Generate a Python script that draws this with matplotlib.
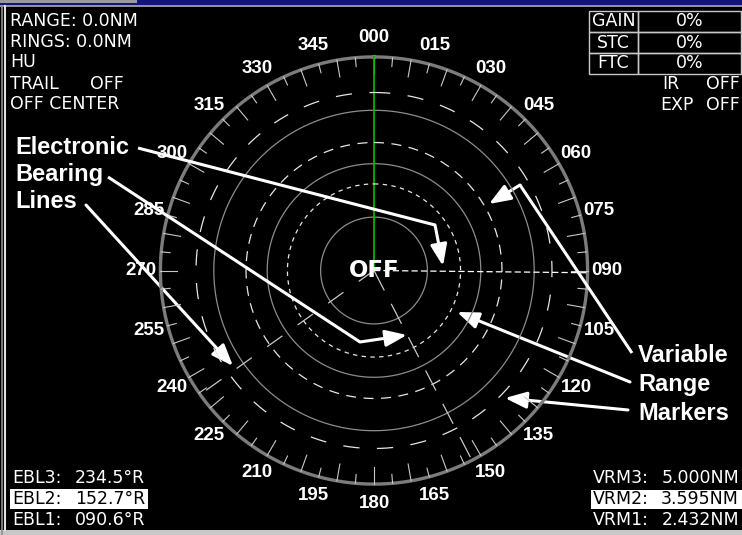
import numpy as np
import matplotlib.pyplot as plt
from matplotlib.patches import Rectangle, FancyArrowPatch

# radar picture, distances in nautical miles, bearings in degrees true
ring_radii = [1.5, 3.0, 4.5]
bezel_radius = 6.0
heading = 0.0

vrm_names = ["VRM3:", "VRM2:", "VRM1:"]
vrm_values = [5.000, 3.595, 2.432]
ebl_names = ["EBL3:", "EBL2:", "EBL1:"]
ebl_bearings = [234.5, 152.7, 90.6]

compass_bearings = [0, 15, 30, 45, 60, 75, 90, 105, 120, 135, 150, 165,
                    180, 195, 210, 225, 240, 255, 270, 285, 300, 315, 330, 345]
compass_labels = ["000", "015", "030", "045", "060", "075", "090", "105",
                  "120", "135", "150", "165", "180", "195", "210", "225",
                  "240", "255", "270", "285", "300", "315", "330", "345"]

status_left = ["RANGE: 0.0NM", "RINGS: 0.0NM", "HU", "TRAIL", "OFF CENTER"]
trail_state = "OFF"
table_names = ["GAIN", "STC", "FTC"]
table_values = ["0%", "0%", "0%"]
ir_state = "OFF"
exp_state = "OFF"
center_state = "OFF"

# screen geometry (reference pixels)
W, H = 742, 535
CX, CY, S = 374, 270.5, 35.6


def px(x, y):
    return ((x - CX) / S, (CY - y) / S)


def polar(r, b):
    b = np.radians(b)
    return r * np.sin(b), r * np.cos(b)


fig = plt.figure(figsize=(W / 100, H / 100), dpi=100, facecolor="black")
ax = fig.add_axes([0, 0, 1, 1])
ax.set_facecolor("black")
x0, y0 = px(0, H)
x1, y1 = px(W, 0)
ax.set_xlim(x0, x1)
ax.set_ylim(y0, y1)
ax.axis("off")

scr = "DejaVu Sans"
lab = "Liberation Sans"

# frame of the screenshot
ax.add_patch(Rectangle(px(0, 5), W / S, 5 / S, color="#14147a", lw=0))
ax.add_patch(Rectangle(px(0, 3), 137 / S, 3 / S, color="#9a9a9a", lw=0))
ax.plot(*zip(px(0, 6), px(W, 6)), color="#b0b0b0", lw=1.2)
ax.plot(*zip(px(2, 6), px(2, 535)), color="#909090", lw=1.2)
ax.plot(*zip(px(5, 6), px(5, 530)), color="#e0e0e0", lw=1.5)
ax.add_patch(Rectangle(px(0, 535), W / S, 5 / S, color="#c8c8c8", lw=0))

t = np.linspace(0, 360, 721)

# range rings
for r in ring_radii:
    ax.plot(*polar(r, t), color="#8c8c8c", lw=0.9)

# bezel and bearing scale
ax.plot(*polar(bezel_radius, t), color="#7c7c7c", lw=2.4)
for b in np.arange(0, 360, 5):
    inner = bezel_radius - (0.48 if b % 10 == 0 else 0.25)
    xa, ya = polar(inner, b)
    xb, yb = polar(bezel_radius, b)
    ax.plot([xa, xb], [ya, yb], color="#c8c8c8", lw=0.8)
for b, s in zip(compass_bearings, compass_labels):
    ax.text(*polar(6.55, b), s, color="white", fontsize=13.5, family=lab,
            weight="bold", ha="center", va="center")

# heading line
ax.plot(*zip((0, 0), polar(bezel_radius, heading)), color="#00b400", lw=1.3)

# variable range markers
vrm_styles = [(0, (13, 14)), (0, (8, 6)), (0, (3.5, 3.5))]
for r, ls in zip(vrm_values, vrm_styles):
    ax.plot(*polar(r, t), color="#e6e6e6", lw=0.9, ls=ls)

# electronic bearing lines
ebl_styles = [(0, (15, 15)), (0, (18, 12)), (0, (5, 2.5))]
ebl_colors = ["#c8c8c8", "#c8c8c8", "white"]
for b, ls, c in zip(ebl_bearings, ebl_styles, ebl_colors):
    ax.plot(*zip((0, 0), polar(bezel_radius, b)), color=c, lw=0.9, ls=ls)

ax.text(0, 0, center_state, color="white", fontsize=16.5, family=scr,
        weight="bold", ha="center", va="center")

# status text, top left
rows_y = [21.5, 42, 62, 84, 104]
for s, y in zip(status_left, rows_y):
    ax.text(*px(10, y), s, color="white", fontsize=12.5, family=scr,
            ha="left", va="center")
ax.text(*px(90, rows_y[3]), trail_state, color="white", fontsize=12.5,
        family=scr, ha="left", va="center")

# gain / stc / ftc table
edges = [11, 32, 53, 74]
for i, (n, v) in enumerate(zip(table_names, table_values)):
    ya, yb = edges[i], edges[i + 1]
    ax.add_patch(Rectangle(px(589, yb), 49 / S, (yb - ya) / S, fill=False,
                           ec="#c8c8c8", lw=1))
    ax.add_patch(Rectangle(px(638, yb), 103 / S, (yb - ya) / S, fill=False,
                           ec="#c8c8c8", lw=1))
    ax.text(*px(613.5, (ya + yb) / 2), n, color="white", fontsize=12.5,
            family=scr, ha="center", va="center")
    ax.text(*px(690, (ya + yb) / 2), v, color="white", fontsize=12.5,
            family=scr, ha="center", va="center")
ax.text(*px(662, 84), "IR", color="white", fontsize=12.5, family=scr,
        ha="left", va="center")
ax.text(*px(740, 84), ir_state, color="white", fontsize=12.5, family=scr,
        ha="right", va="center")
ax.text(*px(660, 105), "EXP", color="white", fontsize=12.5, family=scr,
        ha="left", va="center")
ax.text(*px(740, 105), exp_state, color="white", fontsize=12.5, family=scr,
        ha="right", va="center")

# EBL / VRM readouts, bottom corners
bottom_y = [478, 499, 520]
for i, (n, b) in enumerate(zip(ebl_names, ebl_bearings)):
    fg = "white"
    if n == "EBL2:":
        ax.add_patch(Rectangle(px(10, 509), 138 / S, 20 / S, color="white", lw=0))
        fg = "black"
    ax.text(*px(12, bottom_y[i]), n, color=fg, fontsize=12.5, family=scr,
            ha="left", va="center")
    ax.text(*px(145, bottom_y[i]), "%05.1f\u00b0R" % b, color=fg,
            fontsize=12.5, family=scr, ha="right", va="center")
for i, (n, v) in enumerate(zip(vrm_names, vrm_values)):
    fg = "white"
    if n == "VRM2:":
        ax.add_patch(Rectangle(px(591, 509), 151 / S, 19 / S, color="white", lw=0))
        fg = "black"
    ax.text(*px(593, bottom_y[i]), n, color=fg, fontsize=12.5, family=scr,
            ha="left", va="center")
    ax.text(*px(739, bottom_y[i]), "%.3fNM" % v, color=fg, fontsize=12.5,
            family=scr, ha="right", va="center")

# callouts
for s, y in zip(["Electronic", "Bearing", "Lines"], [148, 175, 202]):
    ax.text(*px(15, y), s, color="white", fontsize=17, family=lab,
            weight="bold", ha="left", va="center")
for s, y in zip(["Variable", "Range", "Markers"], [356, 385, 413]):
    ax.text(*px(638, y), s, color="white", fontsize=17, family=lab,
            weight="bold", ha="left", va="center")

arrows = [
    [(138, 148), (435, 225), (443, 266)],
    [(108, 177), (360, 342), (407, 335)],
    [(86, 205), (233, 366)],
    [(632, 353), (520, 185), (489, 204)],
    [(630, 382), (457, 312)],
    [(628, 410), (505, 398)],
]
for pts in arrows:
    p = [px(*q) for q in pts]
    if len(p) > 2:
        ax.plot(*zip(*p[:-1]), color="white", lw=2.2, solid_capstyle="butt")
    ax.add_patch(FancyArrowPatch(p[-2], p[-1], color="white", lw=2.2,
                                 arrowstyle="-|>,head_length=13,head_width=5",
                                 mutation_scale=1, shrinkA=0, shrinkB=0))

fig.savefig("out.png", dpi=100, facecolor="black")
